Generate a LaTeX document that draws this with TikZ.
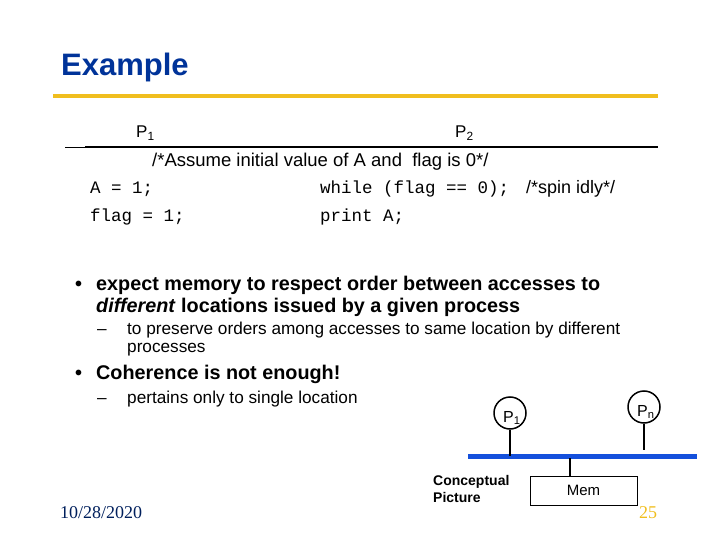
\documentclass[tikz,border=0pt]{standalone}
\usepackage{fontspec}
\setmainfont{Liberation Sans}
\setmonofont{Liberation Mono}
\newfontfamily\seriff{Liberation Serif}
\definecolor{ttl}{RGB}{0,51,153}
\definecolor{gold}{RGB}{240,190,30}
\definecolor{bus}{RGB}{20,80,220}
\begin{document}
\begin{tikzpicture}[x=1pt,y=-1pt,
  txt/.style={inner sep=0pt,anchor=base west},
  proc/.style={draw,line width=1.5pt,circle,minimum size=32pt,inner sep=0pt},
  stem/.style={line width=2pt}]
\useasboundingbox (0,0) rectangle (720,540);
\node[txt,font=\bfseries\fontsize{31}{33}\selectfont,text=ttl] (title) at (61,76) {Example};
\draw[gold,line width=4pt] (53,96) -- (658,96);
\draw[line width=0.8pt] (65,147) -- (85,147);
\draw[line width=1.6pt] (85,147) -- (658,147);
\node[txt,font=\fontsize{17}{18}\selectfont] (p1) at (136,138) {P\textsubscript{1}};
\node[txt,font=\fontsize{17}{18}\selectfont] (p2) at (455,138) {P\textsubscript{2}};
\node[txt,font=\fontsize{18.5}{20}\selectfont] (as) at (152,167) {/*Assume initial value of A and\ \ flag is 0*/};
\node[txt,font=\ttfamily\fontsize{17.5}{19}\selectfont] (c1) at (90,194) {A = 1;};
\node[txt,font=\ttfamily\fontsize{17.5}{19}\selectfont] (c2) at (90,222) {flag = 1;};
\node[txt,font=\ttfamily\fontsize{17.5}{19}\selectfont] (c3) at (320,194) {while (flag == 0);};
\node[txt,font=\fontsize{18}{20}\selectfont] (c4) at (526,194) {/*spin idly*/};
\node[txt,font=\ttfamily\fontsize{17.5}{19}\selectfont] (c5) at (320,222) {print A;};
\begin{scope}[font=\bfseries\fontsize{19.8}{22}\selectfont]
\node[txt] (b1) at (75,290) {•};
\node[txt] (t1) at (96,290) {expect memory to respect order between accesses to};
\node[txt] (t1b) at (96,312) {\textit{different} locations issued by a given process};
\node[txt] (b2) at (75,379) {•};
\node[txt] (t2) at (96,379) {Coherence is not enough!};
\end{scope}
\begin{scope}[font=\fontsize{17.2}{19}\selectfont]
\node[txt] (d1) at (97,334) {–};
\node[txt] (s1) at (127,334) {to preserve orders among accesses to same location by different};
\node[txt] (s1b) at (127,352) {processes};
\node[txt] (d2) at (97,403) {–};
\node[txt] (s2) at (127,403) {pertains only to single location};
\end{scope}
\node[proc] (P1) at (510,413) {};
\node[txt,font=\fontsize{16}{17}\selectfont] (P1l) at (503,422) {P\textsubscript{1}};
\node[proc] (Pn) at (644,407) {};
\node[txt,font=\fontsize{16}{17}\selectfont] (Pnl) at (637,416) {P\textsubscript{n}};
\coordinate (busL) at (468,456); \coordinate (busR) at (697,456);
\draw[bus,line width=5pt] (busL) -- (busR);
\coordinate (b1c) at (510,456); \coordinate (b2c) at (644,450);
\draw[stem] (P1.south) -- (b1c);
\draw[stem] (Pn.south) -- (b2c);
\node[draw,minimum width=107pt,minimum height=29pt,inner sep=0pt,font=\fontsize{15}{16}\selectfont] (mem) at (583.5,490.5) {Mem};
\coordinate (mtop) at (570,458);
\draw[stem] (mtop) -- (mem.north -| mtop);
\node[txt,font=\bfseries\fontsize{14}{15}\selectfont] (cp) at (433,485) {Conceptual};
\node[txt,font=\bfseries\fontsize{14}{15}\selectfont] (cp2) at (433,502) {Picture};
\node[txt,font=\seriff\fontsize{18}{19}\selectfont,text=ttl!60!black] (date) at (60,518) {10/28/2020};
\node[txt,font=\seriff\fontsize{18}{19}\selectfont,text=gold] (pg) at (639,518) {25};
\end{tikzpicture}
\end{document}
